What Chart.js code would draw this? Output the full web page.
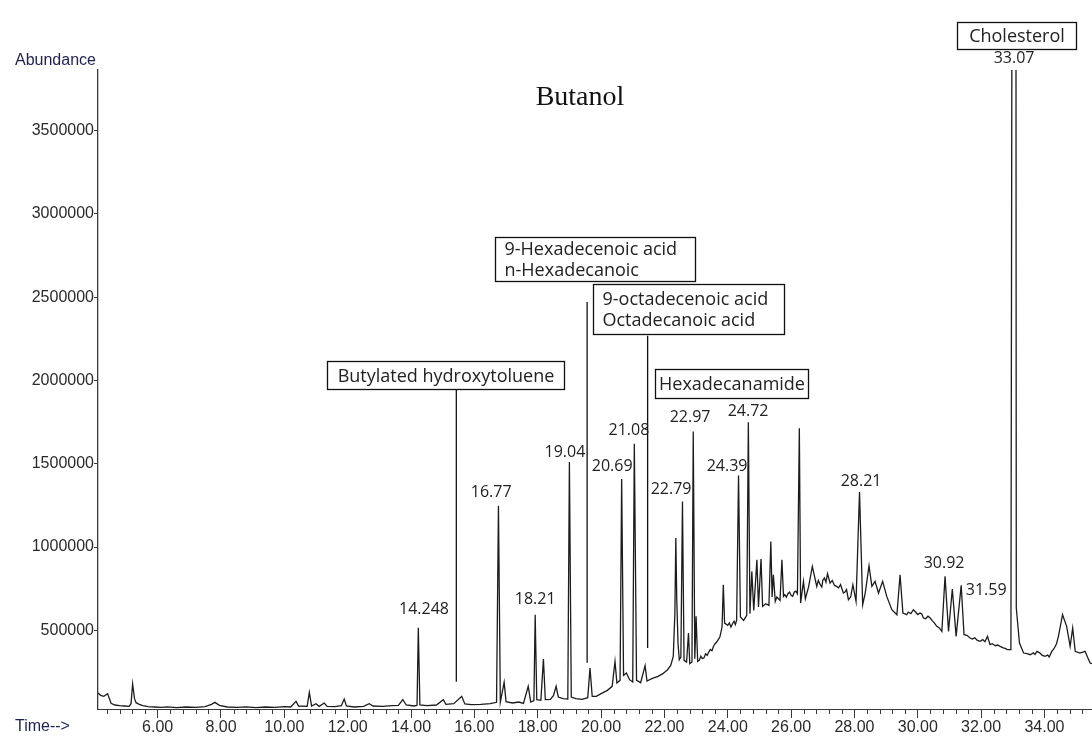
<!DOCTYPE html>
<html>
<head>
<meta charset="utf-8">
<title>Butanol chromatogram</title>
<script src="https://cdn.jsdelivr.net/npm/chart.js@4.4.1/dist/chart.umd.min.js"></script>
<style>
  body { margin: 0; background: #fff; }
  canvas { display: block; }
</style>
</head>
<body>
<canvas id="chromChart" width="1092" height="736"></canvas>
<script>
// retention time (min) and abundance
const times = [
    4.12, 4.20, 4.30, 4.42, 4.53, 4.65, 4.80, 4.95, 5.10, 5.16,
    5.21, 5.27, 5.32, 5.42, 5.53, 5.70, 5.90, 6.10, 6.30, 6.60,
    6.90, 7.20, 7.50, 7.70, 7.81, 7.95, 8.20, 8.50, 8.80, 9.10,
    9.40, 9.70, 10.00, 10.20, 10.37, 10.45, 10.72, 10.79, 10.86, 11.00,
    11.10, 11.26, 11.35, 11.60, 11.80, 11.89, 11.96, 12.20, 12.50, 12.68,
    12.80, 13.10, 13.40, 13.60, 13.74, 13.85, 14.10, 14.19, 14.23, 14.28,
    14.50, 14.80, 15.02, 15.10, 15.35, 15.60, 15.70, 15.90, 16.20, 16.50,
    16.70, 16.76, 16.82, 16.94, 17.00, 17.20, 17.40, 17.55, 17.70, 17.78,
    17.88, 17.92, 17.97, 18.10, 18.18, 18.24, 18.40, 18.50, 18.58, 18.65,
    18.80, 18.95, 19.00, 19.06, 19.20, 19.40, 19.58, 19.65, 19.72, 19.85,
    20.00, 20.20, 20.35, 20.44, 20.50, 20.60, 20.65, 20.71, 20.80, 20.90,
    21.00, 21.05, 21.12, 21.25, 21.39, 21.45, 21.60, 21.80, 21.95, 22.10,
    22.20, 22.28, 22.33, 22.36, 22.39, 22.43, 22.47, 22.52, 22.57, 22.62,
    22.70, 22.76, 22.80, 22.87, 22.91, 22.96, 23.00, 23.05, 23.10, 23.15,
    23.20, 23.25, 23.30, 23.35, 23.40, 23.45, 23.50, 23.55, 23.60, 23.65,
    23.70, 23.75, 23.82, 23.86, 23.90, 24.00, 24.05, 24.10, 24.15, 24.20,
    24.24, 24.28, 24.34, 24.40, 24.50, 24.60, 24.65, 24.70, 24.76, 24.82,
    24.92, 24.97, 25.05, 25.10, 25.20, 25.30, 25.36, 25.40, 25.44, 25.50,
    25.55, 25.60, 25.65, 25.71, 25.76, 25.80, 25.85, 25.90, 25.95, 26.00,
    26.05, 26.10, 26.15, 26.20, 26.26, 26.30, 26.39, 26.45, 26.55, 26.67,
    26.81, 26.86, 26.92, 26.97, 27.00, 27.05, 27.10, 27.15, 27.23, 27.30,
    27.37, 27.44, 27.50, 27.56, 27.65, 27.70, 27.75, 27.81, 27.88, 27.95,
    28.05, 28.16, 28.26, 28.34, 28.46, 28.55, 28.65, 28.76, 28.89, 29.02,
    29.18, 29.34, 29.44, 29.53, 29.65, 29.70, 29.78, 29.86, 29.93, 30.00,
    30.07, 30.12, 30.18, 30.25, 30.32, 30.39, 30.45, 30.52, 30.60, 30.68,
    30.76, 30.86, 30.97, 31.09, 31.21, 31.37, 31.46, 31.55, 31.65, 31.72,
    31.80, 31.88, 31.97, 32.05, 32.12, 32.20, 32.28, 32.35, 32.45, 32.52,
    32.60, 32.70, 32.78, 32.83, 32.94, 32.97, 33.10, 33.11, 33.21, 33.34,
    33.45, 33.55, 33.65, 33.70, 33.76, 33.85, 33.93, 34.02, 34.10, 34.15,
    34.23, 34.30, 34.38, 34.44, 34.57, 34.70, 34.81, 34.89, 34.97, 35.12,
    35.28, 35.44, 35.50
];
const abundance = [
    124000, 110000, 104000, 120000, 62000, 52000, 48000, 46000, 44000, 60000,
    178000, 90000, 66000, 56000, 48000, 42000, 40000, 38000, 41000, 36000,
    40000, 38000, 42000, 56000, 68000, 50000, 40000, 38000, 41000, 36000,
    40000, 38000, 42000, 40000, 74000, 46000, 44000, 128000, 46000, 60000,
    44000, 64000, 44000, 42000, 48000, 88000, 46000, 40000, 44000, 60000,
    46000, 44000, 48000, 50000, 84000, 52000, 46000, 50000, 516000, 52000,
    48000, 52000, 84000, 56000, 60000, 104000, 58000, 54000, 56000, 60000,
    68000, 1248000, 70000, 188000, 72000, 64000, 70000, 62000, 164000, 70000,
    78000, 594000, 84000, 80000, 328000, 84000, 86000, 110000, 164000, 100000,
    90000, 88000, 1510000, 100000, 90000, 86000, 96000, 274000, 104000, 104000,
    120000, 140000, 164000, 314000, 184000, 200000, 1408000, 230000, 244000, 204000,
    190000, 1620000, 200000, 186000, 288000, 196000, 210000, 224000, 240000, 264000,
    290000, 344000, 600000, 1054000, 684000, 420000, 324000, 340000, 1274000, 320000,
    310000, 484000, 300000, 310000, 1694000, 330000, 584000, 314000, 320000, 345000,
    330000, 335000, 360000, 350000, 370000, 385000, 378000, 405000, 420000, 430000,
    445000, 460000, 520000, 774000, 544000, 530000, 545000, 520000, 540000, 555000,
    535000, 560000, 1430000, 580000, 560000, 590000, 1750000, 600000, 854000, 620000,
    924000, 640000, 928000, 644000, 660000, 650000, 1034000, 700000, 834000, 674000,
    700000, 690000, 680000, 924000, 704000, 715000, 700000, 720000, 730000, 710000,
    705000, 730000, 735000, 720000, 1714000, 664000, 794000, 690000, 760000, 884000,
    764000, 800000, 774000, 760000, 800000, 815000, 790000, 840000, 784000, 800000,
    770000, 764000, 755000, 775000, 724000, 730000, 745000, 684000, 700000, 774000,
    674000, 1330000, 654000, 724000, 888000, 764000, 794000, 724000, 794000, 704000,
    624000, 594000, 834000, 604000, 594000, 610000, 600000, 624000, 610000, 595000,
    604000, 600000, 574000, 570000, 585000, 574000, 560000, 545000, 524000, 515000,
    494000, 824000, 494000, 748000, 464000, 770000, 474000, 470000, 454000, 448000,
    455000, 440000, 434000, 445000, 432000, 464000, 414000, 420000, 408000, 412000,
    404000, 395000, 390000, 384000, 384000, 4000000, 4000000, 634000, 424000, 364000,
    360000, 354000, 365000, 355000, 374000, 365000, 350000, 344000, 352000, 340000,
    374000, 390000, 420000, 464000, 594000, 524000, 404000, 514000, 374000, 364000,
    374000, 304000, 300000
];

const xTickValues = [6, 8, 10, 12, 14, 16, 18, 20, 22, 24, 26, 28, 30, 32, 34];
const yTickValues = [500000, 1000000, 1500000, 2000000, 2500000, 3000000, 3500000];

// retention-time labels over the peaks
const peakLabels = ['14.248', '16.77', '18.21', '19.04', '20.69', '21.08', '22.79', '22.97', '24.39', '24.72', '28.21', '30.92', '31.59', '33.07'];
const peakLabelTimes = [14.41, 16.53, 17.92, 18.86, 20.35, 20.88, 22.21, 22.81, 23.98, 24.64, 28.21, 30.83, 32.16, 33.04];
const peakLabelAbund = [624000, 1326000, 684000, 1566000, 1482000, 1698000, 1344000, 1776000, 1482000, 1812000, 1392000, 900000, 738000, 3936000];

// pointer lines from the compound boxes
const calloutTimes = [15.43, 19.56, 21.47];
const calloutTop = [1956000, 2472000, 2268000];
const calloutBottom = [192000, 306000, 394000];

// compound name boxes, placed in data units (left/right in min, top/bottom in abundance)
const compoundBoxes = [
    { lines: ['Butylated hydroxytoluene'], left: 11.35, right: 18.83, top: 2118000, bottom: 1950000 },
    { lines: ['9-Hexadecenoic acid', 'n-Hexadecanoic'], left: 16.65, right: 22.97, top: 2862000, bottom: 2598000 },
    { lines: ['9-octadecenoic acid', 'Octadecanoic acid'], left: 19.75, right: 25.78, top: 2580000, bottom: 2280000 },
    { lines: ['Hexadecanamide'], left: 21.71, right: 26.54, top: 2070000, bottom: 1896000 },
    { lines: ['Cholesterol'], left: 31.24, right: 35.0, top: 4152000, bottom: 3990000 }
];

const traceColor = '#1c1c1c';
const axisColor = '#3a3a3a';

const datasets = [{
    data: times.map((t, i) => ({ x: t, y: abundance[i] })),
    borderColor: traceColor,
    borderWidth: 1.3,
    pointRadius: 0,
    tension: 0
}];
calloutTimes.forEach((t, i) => {
    datasets.push({
        data: [{ x: t, y: calloutBottom[i] }, { x: t, y: calloutTop[i] }],
        borderColor: '#111',
        borderWidth: 1.3,
        pointRadius: 0,
        clip: false
    });
});

// text, boxes, minor ticks
const decorations = {
    id: 'decorations',
    afterDraw(chart) {
        const { ctx, scales: { x, y } } = chart;
        ctx.save();

        // minor time ticks every 0.4 min
        ctx.strokeStyle = axisColor;
        ctx.lineWidth = 1;
        const base = chart.chartArea.bottom;
        for (let k = 11; k * 0.4 <= x.max; k++) {
            const v = k * 0.4;
            if (Math.abs(v / 2 - Math.round(v / 2)) < 1e-6) continue;
            const px = Math.round(x.getPixelForValue(v)) + 0.5;
            ctx.beginPath();
            ctx.moveTo(px, base);
            ctx.lineTo(px, base + 5);
            ctx.stroke();
        }

        // axis names
        ctx.fillStyle = '#1d2250';
        ctx.font = '16px "Liberation Sans"';
        ctx.textAlign = 'left';
        ctx.textBaseline = 'middle';
        ctx.fillText('Abundance', 15, 61);
        ctx.fillText('Time-->', 15, 727);

        // title
        ctx.fillStyle = '#111';
        ctx.font = '28px "Liberation Serif"';
        ctx.textAlign = 'center';
        ctx.fillText('Butanol', 580, 98);

        // peak labels
        ctx.fillStyle = '#222';
        ctx.font = '16px "Open Sans"';
        peakLabels.forEach((txt, i) => {
            ctx.fillText(txt, x.getPixelForValue(peakLabelTimes[i]), y.getPixelForValue(peakLabelAbund[i]));
        });

        // compound boxes
        ctx.font = '18px "Open Sans"';
        compoundBoxes.forEach(b => {
            const l = Math.round(x.getPixelForValue(b.left)) + 0.5;
            const r = Math.round(x.getPixelForValue(b.right)) + 0.5;
            const t = Math.round(y.getPixelForValue(b.top)) + 0.5;
            const bt = Math.round(y.getPixelForValue(b.bottom)) + 0.5;
            ctx.fillStyle = '#fff';
            ctx.fillRect(l, t, r - l, bt - t);
            ctx.strokeStyle = '#111';
            ctx.lineWidth = 1.3;
            ctx.strokeRect(l, t, r - l, bt - t);
            ctx.fillStyle = '#222';
            const mid = (t + bt) / 2 + 1;
            const lh = 21.5;
            b.lines.forEach((line, j) => {
                const ly = mid + (j - (b.lines.length - 1) / 2) * lh;
                if (b.lines.length > 1) {
                    ctx.textAlign = 'left';
                    ctx.fillText(line, l + 9, ly);
                } else {
                    ctx.textAlign = 'center';
                    ctx.fillText(line, (l + r) / 2, ly);
                }
            });
        });
        ctx.restore();
    }
};

const config = {
    type: 'line',
    data: { datasets: datasets },
    options: {
        responsive: false,
        devicePixelRatio: 1,
        animation: false,
        layout: { padding: { top: 70, left: 0, right: 0, bottom: 0 } },
        plugins: { legend: { display: false }, tooltip: { enabled: false } },
        scales: {
            x: {
                type: 'linear',
                min: 4.117,
                max: 35.5,
                afterBuildTicks: scale => { scale.ticks = xTickValues.map(v => ({ value: v })); },
                afterFit: scale => { scale.height = 27; },
                ticks: {
                    callback: v => Number(v).toFixed(2),
                    font: { family: 'Liberation Sans', size: 16 },
                    color: '#2a2a2a',
                    padding: 0,
                    maxRotation: 0,
                    autoSkip: false
                },
                grid: { drawOnChartArea: false, tickLength: 9, tickColor: axisColor },
                border: { color: axisColor, width: 1 }
            },
            y: {
                type: 'linear',
                min: 28000,
                max: 3864000,
                afterBuildTicks: scale => { scale.ticks = yTickValues.map(v => ({ value: v })); },
                afterFit: scale => { scale.width = 98; },
                ticks: {
                    callback: v => String(v),
                    font: { family: 'Liberation Sans', size: 16 },
                    color: '#2a2a2a',
                    padding: 0
                },
                grid: { drawOnChartArea: false, tickLength: 4, tickColor: axisColor },
                border: { color: axisColor, width: 1.3 }
            }
        }
    },
    plugins: [decorations]
};

const chromChart = new Chart(document.getElementById('chromChart'), config);
</script>
</body>
</html>
